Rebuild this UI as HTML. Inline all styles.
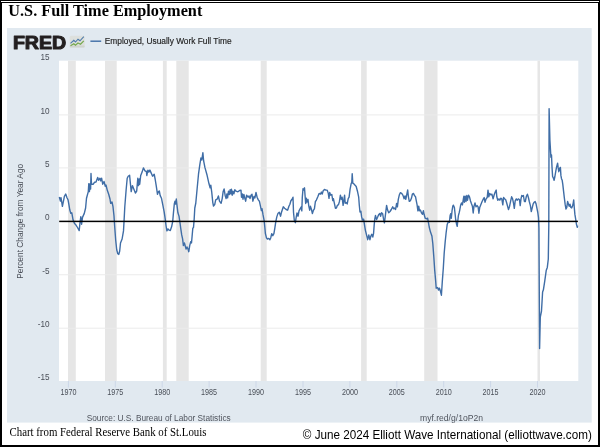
<!DOCTYPE html>
<html><head><meta charset="utf-8"><title>U.S. Full Time Employment</title>
<style>
html,body{margin:0;padding:0;background:#fff;}
body{width:600px;height:447px;position:relative;overflow:hidden;}
svg{position:absolute;left:0;top:0;display:block}
.ax{font-family:"Liberation Sans",sans-serif;font-size:8.2px;fill:#4a4f58}
.ft{font-family:"Liberation Sans",sans-serif;font-size:8.4px;fill:#50555e}
</style></head><body>
<svg width="600" height="447" viewBox="0 0 600 447">
<rect x="0" y="0" width="600" height="447" fill="#000"/>
<rect x="1" y="1" width="598" height="1" fill="#fff"/>
<rect x="2" y="3" width="596" height="442" fill="#fff"/>
<text x="8.3" y="15.6" font-family="Liberation Serif,serif" font-weight="bold" font-size="16.6px" fill="#000" textLength="194" lengthAdjust="spacingAndGlyphs">U.S. Full Time Employment</text>
<rect x="7" y="28" width="584.7" height="394.6" fill="#e1e9f0"/>
<rect x="59" y="60.7" width="519.3" height="320.3" fill="#fff"/>
<rect x="68.0" y="60.7" width="7.8" height="320.3" fill="#e6e6e6"/><rect x="105.0" y="60.7" width="11.7" height="320.3" fill="#e6e6e6"/><rect x="162.9" y="60.7" width="3.8" height="320.3" fill="#e6e6e6"/><rect x="176.3" y="60.7" width="12.4" height="320.3" fill="#e6e6e6"/><rect x="260.7" y="60.7" width="6.0" height="320.3" fill="#e6e6e6"/><rect x="361.1" y="60.7" width="5.6" height="320.3" fill="#e6e6e6"/><rect x="424.2" y="60.7" width="13.3" height="320.3" fill="#e6e6e6"/><rect x="537.5" y="60.7" width="2.5" height="320.3" fill="#e6e6e6"/>
<rect x="59" y="114.40" width="519.3" height="1" fill="#ebebeb"/><rect x="59" y="167.40" width="519.3" height="1" fill="#ebebeb"/><rect x="59" y="274.25" width="519.3" height="1" fill="#ebebeb"/><rect x="59" y="327.70" width="519.3" height="1" fill="#ebebeb"/>
<text x="49.5" y="60.4" text-anchor="end" class="ax">15</text><text x="49.5" y="113.7" text-anchor="end" class="ax">10</text><text x="49.5" y="167.0" text-anchor="end" class="ax">5</text><text x="49.5" y="220.3" text-anchor="end" class="ax">0</text><text x="49.5" y="273.7" text-anchor="end" class="ax">-5</text><text x="49.5" y="327.0" text-anchor="end" class="ax">-10</text><text x="49.5" y="380.3" text-anchor="end" class="ax">-15</text>
<text x="68.4" y="394.9" text-anchor="middle" class="ax" textLength="16" lengthAdjust="spacingAndGlyphs">1970</text><rect x="67.9" y="381" width="1" height="6.5" fill="#cdd7e8"/><text x="115.3" y="394.9" text-anchor="middle" class="ax" textLength="16" lengthAdjust="spacingAndGlyphs">1975</text><rect x="114.8" y="381" width="1" height="6.5" fill="#cdd7e8"/><text x="162.2" y="394.9" text-anchor="middle" class="ax" textLength="16" lengthAdjust="spacingAndGlyphs">1980</text><rect x="161.7" y="381" width="1" height="6.5" fill="#cdd7e8"/><text x="209.1" y="394.9" text-anchor="middle" class="ax" textLength="16" lengthAdjust="spacingAndGlyphs">1985</text><rect x="208.6" y="381" width="1" height="6.5" fill="#cdd7e8"/><text x="256.0" y="394.9" text-anchor="middle" class="ax" textLength="16" lengthAdjust="spacingAndGlyphs">1990</text><rect x="255.5" y="381" width="1" height="6.5" fill="#cdd7e8"/><text x="303.0" y="394.9" text-anchor="middle" class="ax" textLength="16" lengthAdjust="spacingAndGlyphs">1995</text><rect x="302.5" y="381" width="1" height="6.5" fill="#cdd7e8"/><text x="349.9" y="394.9" text-anchor="middle" class="ax" textLength="16" lengthAdjust="spacingAndGlyphs">2000</text><rect x="349.4" y="381" width="1" height="6.5" fill="#cdd7e8"/><text x="396.8" y="394.9" text-anchor="middle" class="ax" textLength="16" lengthAdjust="spacingAndGlyphs">2005</text><rect x="396.3" y="381" width="1" height="6.5" fill="#cdd7e8"/><text x="443.7" y="394.9" text-anchor="middle" class="ax" textLength="16" lengthAdjust="spacingAndGlyphs">2010</text><rect x="443.2" y="381" width="1" height="6.5" fill="#cdd7e8"/><text x="490.6" y="394.9" text-anchor="middle" class="ax" textLength="16" lengthAdjust="spacingAndGlyphs">2015</text><rect x="490.1" y="381" width="1" height="6.5" fill="#cdd7e8"/><text x="537.5" y="394.9" text-anchor="middle" class="ax" textLength="16" lengthAdjust="spacingAndGlyphs">2020</text><rect x="537.0" y="381" width="1" height="6.5" fill="#cdd7e8"/>
<text x="12.9" y="48.7" font-family="Liberation Sans,sans-serif" font-weight="bold" font-size="17.6px" fill="#231f20" stroke="#231f20" stroke-width="1" stroke-linejoin="round" textLength="53.4" lengthAdjust="spacingAndGlyphs">FRED</text>
<g>
<rect x="69.7" y="35.8" width="15" height="11.8" rx="1.5" fill="#dde0dd"/>
<rect x="69.7" y="45.6" width="15" height="2" rx="1" fill="#cfd3cf"/>
<polyline points="70.5,43.3 73.8,40.3 75.5,42 78,39.2 80,40.8 83.8,36.7" fill="none" stroke="#4f7cab" stroke-width="1.1"/>
<polyline points="70.5,45.8 73.8,43.7 75.5,45.3 78,43 80.5,44.2 83.8,40.8" fill="none" stroke="#76a84e" stroke-width="1.2"/>
</g>
<rect x="90.4" y="40.5" width="10.8" height="1.4" fill="#3f6da6"/>
<text x="104.8" y="44.1" font-family="Liberation Sans,sans-serif" font-size="8.3px" fill="#222" stroke="#222" stroke-width="0.15" textLength="126.8" lengthAdjust="spacingAndGlyphs">Employed, Usually Work Full Time</text>
<text transform="translate(23.3,221.3) rotate(-90)" text-anchor="middle" class="ax" textLength="115" lengthAdjust="spacingAndGlyphs">Percent Change from Year Ago</text>
<polyline points="59.3,197 60.4,201 61,197.7 62.4,206.4 64.4,196.3 65.7,194 67,197.7 68,199.7 68.8,204 69.8,210 70.8,213.4 71.8,212.8 73.1,220.1 74.5,223.5 75.8,224.8 77.5,227.5 79.2,230.6 80,222.8 80.8,216.8 81.6,224.2 82.5,217.4 84.3,213.4 85.6,208 86.5,198.3 88.3,191.6 88.8,183.6 89.4,191.6 90.2,183.6 90.6,189 91,173.5 91.5,184.2 93.3,184.2 94.6,182.2 96,182 97.7,177.5 98.6,180.2 100,178.2 100.6,180.9 101.6,178.2 102.7,184.2 104,181.5 105.3,186.2 106,185 107.3,190.3 108.7,194.3 110,199 110.7,203.4 112,202 113,206.7 114,216 114.7,226.8 115.7,240.3 116.7,249.7 117.8,253.7 118.8,254.4 119.7,251 120.5,243 122.1,239 123.5,230.9 124.1,220.1 124.8,206.7 126.1,190.3 127.2,178.2 128.2,176.2 129.6,175.2 130.4,183.6 131.2,191.6 132.4,185.6 133.8,189 135.4,193 136.7,191 137.8,178.2 138.5,185.6 139.4,178.9 139.7,184.2 140.7,175.5 142.1,172.1 143.4,167.9 145,170.8 146.4,171.5 146.8,175.5 147.9,170.1 148.8,172.1 149.9,170.1 150.8,172.1 152.6,176.2 154.2,174.2 155.2,179.5 156.2,185.6 157.5,194.3 158.5,191.6 159.3,191 160.2,195.6 161.5,198.3 162.9,205.4 164.2,212.1 165.2,218.8 166,225.5 166.9,230.9 168,228.9 169.2,230.2 170.3,230.6 171.6,226.8 172.7,221.5 173.4,213.4 174.3,204 175,201.3 175.6,204 176.3,199 177,205.4 177.9,212.8 179,216.1 179.9,222.1 180.7,228.2 181.7,234.9 182.6,238.9 183.4,245.6 184.4,243 185.3,246.3 186.1,249 187,247 188,249 188.8,251.7 189.7,245.6 190.7,241.6 191.5,243 192.1,236.2 192.8,228.2 193.5,227.5 194.2,218.8 194.8,208 195.8,203 197.1,189 198.5,174.2 199.8,164.8 200.9,158 201.8,160 202.9,152.7 203.6,160.7 204.9,167.4 207.1,175.3 209,183.8 210.1,187.8 210.8,185.1 211.7,191.8 212.8,202.6 213.5,206 214.7,204.6 215.7,199.9 217.1,199.2 218.4,195.9 219.5,201.2 221.1,203.3 222.2,198.6 223.1,191.8 224.1,188.9 225.1,195.2 226.1,198.6 226.9,193.9 227.6,197.9 228.5,191.2 229.4,194.5 230.1,189.8 230.9,193.9 231.4,189.2 232.2,195.2 232.9,191.2 233.9,193.9 234.8,189.8 236.1,191.2 237.9,191.8 239.6,190.5 241,190.2 241.5,197.2 242.3,193.9 243,199.2 243.9,194.5 244.9,198.6 245.7,201.2 246.6,195.2 248,197.2 249,195.9 250,198.6 251,195.2 252,194.3 252.9,201.2 254,196.5 254.9,197.9 256,192.5 257.1,197.2 258.3,199.9 259.4,201.2 260.3,205.3 261.4,210.6 262,208.6 263,214.7 264.1,220.3 264.8,227 265.4,233.7 266.4,237.7 267.4,239 268.8,238.4 269.9,239.7 270.8,237.7 271.7,233.7 272.8,235.7 273.9,233.7 274.8,228.3 275.8,221.6 276.8,216.9 277.9,213.6 279.3,212.2 280.6,216.2 281.5,212.2 283.3,206.8 284.6,208.2 286.2,209.5 287.6,210.2 288.9,206.2 289.9,204.2 290.9,200.8 291.9,199.5 293,197.2 293.5,212.2 294.3,220.3 295.4,222.7 296,218.3 297,212.9 298.1,216.2 299,210.9 300.1,208.9 301.3,206.8 301.8,210.9 302.3,197.4 303,188.7 303.7,190.1 304.5,187.8 305,194.8 305.7,203.5 306.4,198.1 307,202.1 308,199.5 308.8,206.2 309.7,210.2 310.4,206.2 311.3,208.9 312.4,213.6 313.4,210.2 314.4,208.9 315.4,201.5 316.4,200.1 317.8,196.8 319.1,193.4 320.5,194.1 321.4,192.1 322.2,194.1 323.2,190.7 324.5,189.4 325.8,190.1 327.2,190.1 328.3,193.4 329,198.4 329.7,192.5 330.7,195.2 331.8,194.5 332.8,200.6 333.4,198.6 334.5,203.9 335.4,208.2 336.4,208 337.4,205.3 338.5,204.6 339.5,201.2 340.4,195.2 341.2,199.2 342.1,197.2 343.1,205.3 343.9,199.9 344.6,195.2 345.2,203.3 346.2,202.6 347.2,203.9 348.2,198.6 349.1,197.2 350.1,189.2 351.1,183.8 351.8,182.4 352.2,173.7 352.8,183.1 353.8,183.8 354.9,185.1 356.2,186.5 357.6,191.8 358.7,197.2 359.3,205.3 360,212 360.9,211.3 361.6,216.7 362.4,220 363.6,219.2 364.5,224.9 365.4,230.3 366.4,234.3 367.7,239.7 368.8,235 369.9,239.7 370.8,236.3 371.7,234.3 372.8,237 373.6,233 374.2,224.9 374.8,218.9 375.5,215.5 376.6,219.5 377.5,217.5 378.6,214.8 379.8,213.5 380.6,216.2 381.5,212.8 382.6,213.5 383.6,219.5 384.4,222.9 385.2,216.8 386,210.1 386.6,205.4 387.6,210.1 388.7,212.8 390,211.5 391.3,209.5 392.7,206.8 393.6,208.8 394.7,208.1 395.6,209.5 396.6,203.4 397.4,206.8 398.3,199.4 399.4,194.7 400.3,192.7 401.7,193.4 403,195.4 404.1,198.7 405,196 405.8,199.4 406.6,195.4 407.7,190 408.4,196.7 409.3,201.4 410.4,200.7 411.5,198.1 412.4,194 413.4,193.4 414.4,195.4 415.5,196.7 416.4,201.4 417.1,204.8 417.9,210.8 418.7,206.1 419.5,210.8 420.5,210.1 421.4,212.8 422.5,214.2 423.4,210.8 424.2,214.8 425.2,218.2 426.5,218.9 427.6,218.2 428.5,222.9 429.2,227 430.5,232.1 431.9,235.9 432.8,243.5 433.8,256.8 434.7,270.1 435.7,281.5 436.2,288.2 437.6,287.6 438.5,290.1 439.5,288.2 440.4,291 441.4,295.2 442.3,281.5 443.3,268.2 444.2,253 445.2,241.6 446.1,233 447.2,224.5 448.3,221.7 449.4,222.3 450.1,215.6 450.7,213.6 451.3,218.3 452.1,210.3 452.8,206.2 453.4,205.2 454.4,207.6 455,213 455.7,219.7 456.6,224.4 457.2,226.4 457.7,221.7 458.4,215.6 459.1,213 459.7,210.3 460.7,204.9 461.5,202.9 462.4,204.9 463.4,198.9 463.9,196.2 464.4,202.2 465.2,196.2 466,201.5 466.8,195.5 467.5,200.2 468.5,195.2 469.5,196.8 470.5,201 471.4,203.6 472.4,206.2 473.2,213 474,206.2 475,202.9 476,206.9 477.1,205.6 478.1,206.9 478.9,213.2 479.7,207.6 480.7,204.9 482.1,201.5 483.4,198.9 484.2,197.5 485,202.2 486.1,198.9 487.2,197.5 488,190.1 488.8,196.8 489.7,193.5 490.8,194.8 491.9,194.2 493.1,198.9 494.2,194.8 495.2,192.1 496.2,190.1 496.8,196.8 497.8,200.2 498.9,198.9 499.8,200.2 500.9,198.2 501.8,198.9 502.8,204.9 503.6,197.5 504.6,198.9 505.6,199.5 506.5,202.2 507.6,206.2 508.5,209.6 509.6,206.2 510.7,200.9 511.6,196.8 512.6,198.9 513.6,203.6 514.3,208.3 515.2,200.9 516.3,198.9 517.2,200.2 518.3,198.9 519.4,199.5 520.2,205.6 521,198.9 521.8,195.5 522.6,196.2 523.4,195.5 524.4,201.5 525.3,201.5 526.4,196.2 527.4,194.2 528.4,197.5 529.3,201.5 530.4,205.6 531.3,211.6 532.1,208.3 533.1,204.2 534.2,202.2 535.1,201.5 536,203.6 536.8,207.6 537.8,212.5 538.5,217.6 538.9,228 539.6,348.5 540.3,317 541.5,311 542.6,292 543.4,289.8 544.7,281.3 546.2,270.6 547.3,267.4 548.3,259 548.8,225 549.1,108.6 549.9,140 550.4,148.6 550.9,157.2 551.5,155 552,166.9 552.6,176.5 553.4,178.1 554.1,180.3 554.9,176.5 555.8,171.1 556.6,166.9 557.6,163.1 558.2,167.9 558.8,171.7 559.5,168.5 560.4,167.4 560.9,175.4 561.5,178.7 562.2,180.3 562.8,184.3 563.5,190.7 564.4,198.3 565.2,204.7 566,209 566.8,207.4 567.6,201.5 568.5,204.2 569.2,206.3 570,204.2 570.8,207.4 571.7,207.9 572.4,206.3 573.2,203.1 573.7,199.9 574.3,207.9 574.9,214.4 575.6,218.7 576.4,224 577.3,227.3 577.6,225.6" fill="none" stroke="#3f6da6" stroke-width="1.4" stroke-linejoin="round"/>
<rect x="59.2" y="220.65" width="518.7" height="1.5" fill="#000"/>
<text x="86.7" y="420.9" class="ft" textLength="144" lengthAdjust="spacingAndGlyphs">Source: U.S. Bureau of Labor Statistics</text>
<text x="420" y="420.7" class="ft" textLength="63" lengthAdjust="spacingAndGlyphs">myf.red/g/1oP2n</text>
<text x="9.5" y="436.4" font-family="Liberation Serif,serif" font-size="12.4px" fill="#000" textLength="197" lengthAdjust="spacingAndGlyphs">Chart from Federal Reserve Bank of St.Louis</text>
<text x="302.8" y="439" font-family="Liberation Sans,sans-serif" font-size="12.8px" fill="#000" textLength="289" lengthAdjust="spacingAndGlyphs">© June 2024 Elliott Wave International (elliottwave.com)</text>
</svg>
</body></html>
